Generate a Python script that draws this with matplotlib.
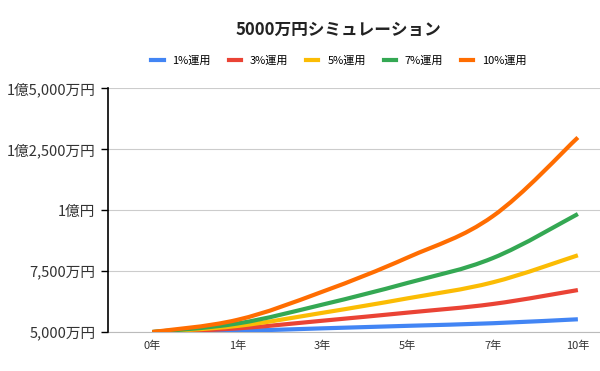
import matplotlib
matplotlib.use("Agg")
import matplotlib.pyplot as plt
from matplotlib.path import Path
from matplotlib.patches import PathPatch
from matplotlib.lines import Line2D

plt.rcParams["font.family"] = ["Noto Sans CJK JP", "DejaVu Sans"]

# data (万円)
years = ["0年", "1年", "3年", "5年", "7年", "10年"]
r1 = [5000, 5050, 5152, 5255, 5361, 5523]
r3 = [5000, 5150, 5464, 5796, 6149, 6720]
r5 = [5000, 5250, 5788, 6381, 7036, 8144]
r7 = [5000, 5350, 6125, 7013, 8029, 9836]
r10 = [5000, 5500, 6655, 8053, 9744, 12969]
names = ["1%運用", "3%運用", "5%運用", "7%運用", "10%運用"]
colors = ["#4285F4", "#EA4335", "#FBBC04", "#34A853", "#FF6D01"]
yticks = [5000, 7500, 10000, 12500, 15000]
ylabels = ["5,000万円", "7,500万円", "1億円", "1億2,500万円", "1億5,000万円"]


def smooth_path(xs, ys, k=0.18):
    # catmull-rom style bezier through the points
    verts = [(xs[0], ys[0])]
    codes = [Path.MOVETO]
    n = len(xs)
    for i in range(n - 1):
        x0, y0 = (xs[i - 1], ys[i - 1]) if i > 0 else (xs[i], ys[i])
        x1, y1 = xs[i], ys[i]
        x2, y2 = xs[i + 1], ys[i + 1]
        x3, y3 = (xs[i + 2], ys[i + 2]) if i + 2 < n else (x2, y2)
        c1 = (x1 + (x2 - x0) * k, y1 + (y2 - y0) * k)
        c2 = (x2 - (x3 - x1) * k, y2 - (y3 - y1) * k)
        verts += [c1, c2, (x2, y2)]
        codes += [Path.CURVE4] * 3
    return Path(verts, codes)


fig = plt.figure(figsize=(6, 3.71), dpi=100)
ax = fig.add_axes([0.18, 0.105, 0.82, 0.658])

xs = list(range(len(years)))
series = [r1, r3, r5, r7, r10]
for vals, c in zip(series, colors):
    patch = PathPatch(smooth_path(xs, vals), facecolor="none", edgecolor=c,
                      lw=3, capstyle="butt", joinstyle="round", zorder=3)
    ax.add_patch(patch)

ax.set_xlim(-0.52, 5.26)
ax.set_ylim(5000, 15000)
ax.set_xticks(xs)
ax.set_xticklabels(years, fontsize=8, color="#333333")
ax.set_yticks(yticks)
ax.set_yticklabels(ylabels, fontsize=10.5, color="#333333")
ax.tick_params(axis="x", length=0, pad=6)
ax.tick_params(axis="y", length=5, width=1, color="black", pad=4)
ax.grid(axis="y", color="#cccccc", lw=0.8)
ax.set_axisbelow(True)
for s in ["top", "right"]:
    ax.spines[s].set_visible(False)
ax.spines["left"].set_color("black")
ax.spines["left"].set_linewidth(1.2)
ax.spines["left"].set_zorder(4)
ax.spines["bottom"].set_color("#bbbbbb")
ax.spines["bottom"].set_linewidth(0.8)

fig.text(338 / 600, 1 - 30 / 371, "5000万円シミュレーション", ha="center", va="center",
         fontsize=12, fontweight="bold", color="#222222")

handles = [Line2D([], [], color=c, lw=3) for c in colors]
fig.legend(handles, names, loc="center", bbox_to_anchor=(339 / 600, 1 - 61 / 371),
           ncol=5, frameon=False, fontsize=8, handlelength=1.1, handletextpad=0.8,
           columnspacing=1.6)

fig.savefig("out.png", dpi=100)
